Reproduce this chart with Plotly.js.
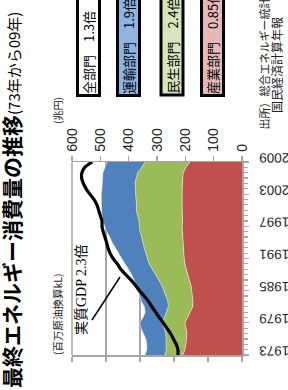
<!DOCTYPE html>
<html><head><meta charset="utf-8">
<script src="https://cdn.plot.ly/plotly-3.0.1.min.js"></script>
<style>html,body{margin:0;padding:0;background:#fff;overflow:hidden}</style>
</head><body>
<div id="chart" style="width:288px;height:390px"></div>
<script>
// ---- data (百万原油換算kL / 兆円) ----
const years = [1973,1974,1975,1976,1977,1978,1979,1980,1981,1982,1983,1984,1985,1986,1987,1988,1989,1990,1991,1992,1993,1994,1995,1996,1997,1998,1999,2000,2001,2002,2003,2004,2005,2006,2007,2008,2009];
const industry    = [174,168,165,163,162,165,168,160,152,145,144,146,148,150,155,160,164,168,170,171,172,174,175,176,176,175,176,177,176,176,177,176,175,174,173,165,153];
const residential = [52,55,58,60,62,64,66,68,70,72,74,78,82,86,90,95,100,105,108,112,115,118,120,124,126,128,131,134,134,136,136,137,140,137,134,130,132];
const transport   = [59,57,57,60,66,68,67,63,63,70,78,78,76,74,72,70,70,72,76,80,86,90,94,98,102,106,105,102,103,103,101,99,97,99,102,108,112];
const gdp         = [226,226,232,242,252,265,278,292,305,318,330,345,362,376,392,410,428,440,455,466,473,478,484,490,494,494,500,506,512,522,537,550,560,566,565,555,529];
const yearTicks   = [1973,1979,1985,1991,1997,2003,2009];
const energyTicks = [0,100,200,300,400,500];
const gdpTicks    = [0,100,200,300,400,500,600];
const sectorNames = ['全部門','運輸部門','民生部門','産業部門'];
const sectorRatios = ['1.3倍','1.9倍','2.4倍','0.85倍'];
const titleMain = '最終エネルギー消費量の推移';
const titleSub = '(73年から09年)';
const gdpLabel = '実質GDP 2.3倍';
const unitEnergy = '(百万原油換算kL)';
const unitGdp = '(兆円)';
const source1 = '出所）総合エネルギー統計、';
const source2 = '国民経済計算年報';

// ---- layout geometry ----
const W = 288, H = 390, ML = 72, MR = 46, MT = 162, MB = 35;
const PW = W - ML - MR, PH = H - MT - MB;
const px = v => (v - ML) / PW;
const py = v => (H - MB - v) / PH;

const FONT = 'Liberation Sans, Noto Sans CJK JP, sans-serif';
const CJK = 'Noto Sans CJK JP, sans-serif';
const GRID = '#a6a6a6';

const traces = [
  {x: industry, y: years, stackgroup: 'e', orientation: 'h', mode: 'lines',
   line: {width: 0.6, color: 'rgba(255,255,255,0.8)'}, fillcolor: '#C0504D', xaxis: 'x', yaxis: 'y', hoverinfo: 'skip'},
  {x: residential, y: years, stackgroup: 'e', orientation: 'h', mode: 'lines',
   line: {width: 0.6, color: 'rgba(255,255,255,0.8)'}, fillcolor: '#9BBB59', xaxis: 'x', yaxis: 'y', hoverinfo: 'skip'},
  {x: transport, y: years, stackgroup: 'e', orientation: 'h', mode: 'lines',
   line: {width: 0.6, color: 'rgba(255,255,255,0.8)'}, fillcolor: '#4F81BD', xaxis: 'x', yaxis: 'y', hoverinfo: 'skip'},
  {x: gdp, y: years, mode: 'lines', line: {color: '#000', width: 3.2, shape: 'spline', smoothing: 0.6},
   xaxis: 'x2', yaxis: 'y', hoverinfo: 'skip'}
];

const boxColors = ['#ffffff', '#8EB4E3', '#D7E4BD', '#E6B9B8'];
const boxX = [88.5, 129, 172.5, 212.5];

const annotations = [
  {text: '<b>' + titleMain + '</b><span style="font-size:15px">' + titleSub + '</span>',
   xref: 'paper', yref: 'paper', x: px(11), y: py(390), xanchor: 'center', yanchor: 'bottom',
   textangle: -90, showarrow: false, font: {family: CJK, size: 21, color: '#000'}},
  {text: unitGdp, xref: 'paper', yref: 'paper', x: px(57), y: py(111), xanchor: 'center', yanchor: 'middle',
   textangle: -90, showarrow: false, font: {family: CJK, size: 10, color: '#222'}},
  {text: unitEnergy, xref: 'paper', yref: 'paper', x: px(57), y: py(314), xanchor: 'center', yanchor: 'middle',
   textangle: -90, showarrow: false, font: {family: CJK, size: 10.5, color: '#222'}},
  {text: gdpLabel, xref: 'paper', yref: 'paper', x: px(81), y: py(290), xanchor: 'center', yanchor: 'middle',
   textangle: -90, showarrow: false, font: {family: 'Liberation Serif, Noto Sans CJK JP, serif', size: 14, color: '#000'}},
  {text: source1, xref: 'paper', yref: 'paper', x: px(264), y: py(132), xanchor: 'center', yanchor: 'bottom',
   textangle: -90, showarrow: false, font: {family: CJK, size: 11, color: '#222'}},
  {text: source2, xref: 'paper', yref: 'paper', x: px(276), y: py(115), xanchor: 'center', yanchor: 'bottom',
   textangle: -90, showarrow: false, font: {family: CJK, size: 12, color: '#222'}}
];
sectorNames.forEach((n, i) => {
  annotations.push({text: n + '　' + sectorRatios[i] + '　　', xref: 'paper', yref: 'paper',
    x: px(boxX[i]), y: py(97), xanchor: 'center', yanchor: 'bottom', textangle: -90, showarrow: false,
    bgcolor: boxColors[i], bordercolor: '#000', borderwidth: 3, borderpad: 0,
    font: {family: CJK, size: 13, color: '#000'}});
});

const layout = {
  width: W, height: H, margin: {l: ML, r: MR, t: MT, b: MB, pad: 0},
  paper_bgcolor: '#fff', plot_bgcolor: '#fff', showlegend: false,
  font: {family: FONT, size: 14, color: '#222'},
  xaxis: {range: [500, 0], side: 'bottom', tickvals: energyTicks, showgrid: true, gridcolor: GRID, gridwidth: 1.5,
    ticks: 'outside', ticklen: 5, tickcolor: GRID, tickwidth: 1.5, showline: true, linecolor: GRID, linewidth: 1.5,
    tickangle: -90, ticklabelstandoff: 32, tickfont: {family: FONT, size: 14, color: '#222'}, zeroline: false, fixedrange: true},
  xaxis2: {range: [600, 0], overlaying: 'x', side: 'top', tickvals: gdpTicks, showgrid: false,
    ticks: 'outside', ticklen: 5, tickcolor: GRID, tickwidth: 1.5, showline: true, linecolor: GRID, linewidth: 1.5,
    tickangle: -90, ticklabelstandoff: 1, tickfont: {family: FONT, size: 14, color: '#222'}, zeroline: false, fixedrange: true},
  yaxis: {range: [1973, 2009], side: 'right', tickvals: yearTicks, tickangle: 179.9, showgrid: false, zeroline: false,
    ticks: 'outside', ticklen: 5, tickcolor: GRID, tickwidth: 1.2, showline: true, linecolor: GRID, linewidth: 1.5,
    minor: {dtick: 1, tick0: 1973, ticks: 'outside', ticklen: 4, tickcolor: GRID, tickwidth: 1.2},
    ticklabelstandoff: 38, tickfont: {family: FONT, size: 13.5, color: '#222'}, fixedrange: true},
  annotations: annotations,
  shapes: [
    {type: 'line', xref: 'paper', yref: 'paper', x0: px(72), x1: px(72), y0: 0, y1: 1, line: {color: GRID, width: 1.5}, layer: 'below'},
    {type: 'line', xref: 'paper', yref: 'paper', x0: px(92), y0: py(320), x1: px(120), y1: py(277), line: {color: '#000', width: 1.5}}
  ]
};

Plotly.newPlot('chart', traces, layout, {displayModeBar: false, staticPlot: true});
</script>
</body></html>
